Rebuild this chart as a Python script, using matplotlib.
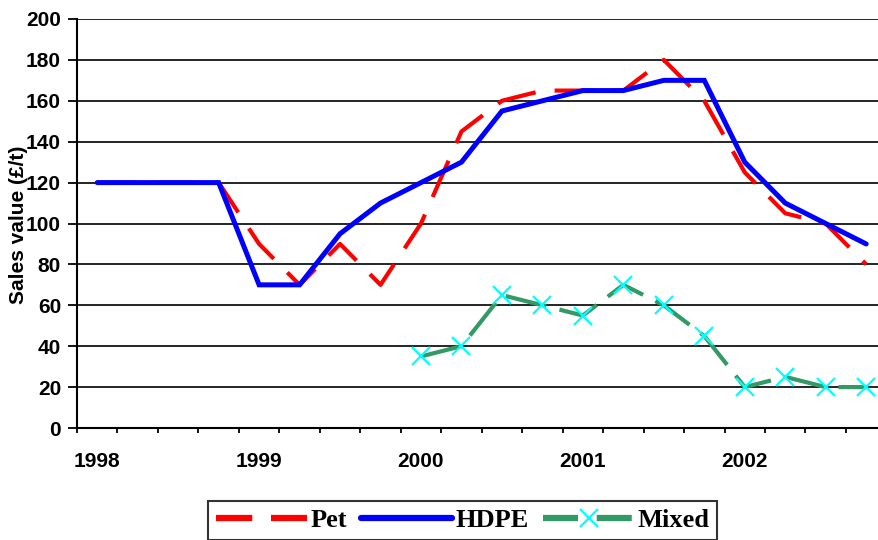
import matplotlib
matplotlib.use("Agg")
import matplotlib.pyplot as plt
from matplotlib.lines import Line2D

# ---- data ----
quarters = list(range(20))  # 1998 Q1 .. 2002 Q4
year_labels = ["1998", "1999", "2000", "2001", "2002"]
year_label_pos = [0, 4, 8, 12, 16]

pet = [120, 120, 120, 120, 90, 70, 90, 70, 100, 145, 160, 165, 165, 165, 180, 160, 125, 105, 100, 80]
hdpe = [120, 120, 120, 120, 70, 70, 95, 110, 120, 130, 155, 160, 165, 165, 170, 170, 130, 110, 100, 90]
mixed_x = list(range(8, 20))
mixed = [35, 40, 65, 60, 55, 70, 60, 45, 20, 25, 20, 20]

W, H = 879, 540
fig = plt.figure(figsize=(W / 100, H / 100), dpi=100)
left, right, top, bottom = 77, 886.4, 19, 428
ax = fig.add_axes([left / W, 1 - bottom / H, (right - left) / W, (bottom - top) / H])

ax.plot(quarters, pet, color="#FF0000", lw=3.0, linestyle=(0, (9.5, 4.6)),
        solid_capstyle="butt", dash_capstyle="butt", zorder=3)
ax.plot(quarters, hdpe, color="#0000FF", lw=3.6, solid_capstyle="round",
        solid_joinstyle="miter", zorder=4)
ax.plot(mixed_x, mixed, color="#339966", lw=3.0, linestyle=(0, (10, 3.3)),
        dash_capstyle="butt", zorder=5)
ax.plot(mixed_x, mixed, linestyle="none", marker="x", markersize=13,
        markeredgewidth=1.6, color="#00FFFF", zorder=6)

ax.set_xlim(-0.5, 19.5)
ax.set_ylim(0, 200)
ax.set_yticks(range(0, 201, 20))
ax.yaxis.grid(True, color="black", lw=1.2)
ax.set_axisbelow(True)

ax.set_xticks([i - 0.5 for i in range(20)])
ax.set_xticklabels([])
ax.set_xticks(year_label_pos, minor=True)
ax.set_xticklabels(year_labels, minor=True)
ax.tick_params(axis="x", which="major", direction="out", length=3.8, width=1.3)
ax.tick_params(axis="x", which="minor", length=0, pad=17)
ax.tick_params(axis="y", direction="out", length=6.5, width=1.3, pad=5)

for lab in ax.get_xticklabels(minor=True) + ax.get_yticklabels():
    lab.set_fontfamily("Liberation Sans")
    lab.set_fontweight("bold")
    lab.set_fontsize(15)

for s in ["top", "right"]:
    ax.spines[s].set_visible(False)
for s in ["left", "bottom"]:
    ax.spines[s].set_linewidth(1.5)

fig.text(19 / W, 1 - 225 / H, "Sales value (£/t)", rotation=90, ha="center", va="center",
         fontfamily="Liberation Sans", fontweight="bold", fontsize=15)

handles = [
    Line2D([], [], color="#FF0000", lw=4.5, linestyle=(0, (5.8, 3.0))),
    Line2D([], [], color="#0000FF", lw=4.5, solid_capstyle="round"),
    Line2D([], [], color="#339966", lw=4.5, linestyle=(0, (5.6, 3.0)), marker="x",
           markersize=13, markeredgewidth=1.6, markeredgecolor="#00FFFF"),
]
leg = fig.legend(handles, ["Pet", "HDPE", "Mixed"], ncol=3, loc="upper left",
                 bbox_to_anchor=(208 / W, 1 - 501 / H), frameon=True, fancybox=False,
                 edgecolor="black", handlelength=3.45, handletextpad=0.12,
                 columnspacing=0.55, borderpad=0.3, borderaxespad=0,
                 prop={"family": "Liberation Serif", "weight": "bold", "size": 19})
leg.get_frame().set_linewidth(1.5)

fig.savefig("out.png", dpi=100)
